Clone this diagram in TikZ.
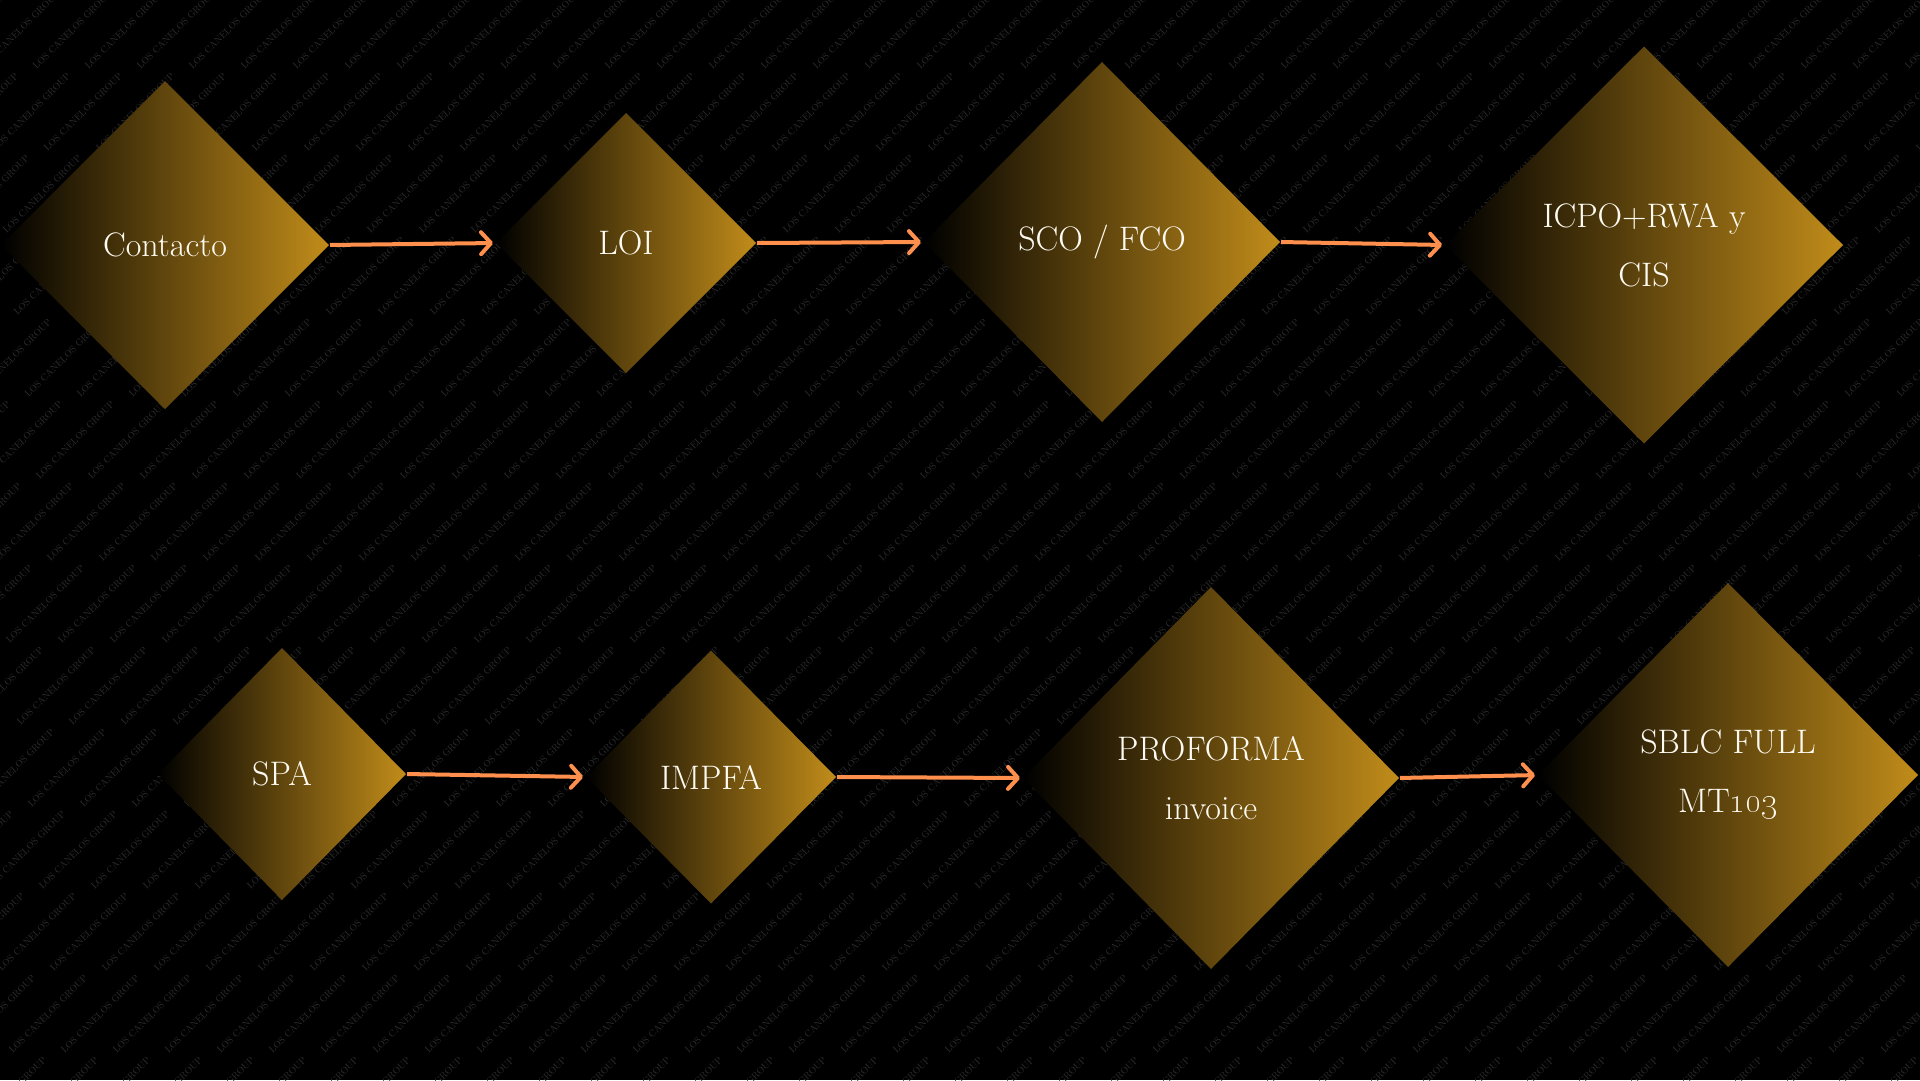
\documentclass[tikz,border=0pt]{standalone}
\usetikzlibrary{shapes.geometric,arrows.meta}
\definecolor{gold}{RGB}{193,140,26}
\definecolor{arrowor}{RGB}{255,143,76}
\definecolor{wmgray}{RGB}{46,46,46}
\definecolor{cream}{RGB}{255,251,242}
\begin{document}
\begin{tikzpicture}[x=1pt,y=-1pt,
  dia/.style={diamond, inner sep=0pt, outer sep=0pt, left color=black, right color=gold,
    text=cream, align=center, font=\fontsize{34}{59}\selectfont},
  flow/.style={draw=arrowor, line width=4pt,
    -{Straight Barb[length=10pt,width=22pt,round]}, shorten >=3pt, shorten <=1pt},
  wm/.style={rotate=45, text=wmgray, font=\fontsize{9.5}{10}\selectfont, inner sep=0pt}]
\fill[black] (0,0) rectangle (1920,1080);
\useasboundingbox (0,0) rectangle (1920,1080);
\begin{scope}
  \clip (0,0) rectangle (1920,1080);
  \foreach \j in {0,...,13}
    \foreach \i in {-5,...,38}
      \node[wm] (w\i-\j) at ({\i*52+\j*11+20},{\j*82+30}) {LOS CANELOS GROUP};
\end{scope}

\node[dia, minimum width=328pt, minimum height=328pt] (contacto) at (165,245) {Contacto};
\node[dia, minimum width=260pt, minimum height=260pt] (loi) at (626,243) {LOI};
\node[dia, minimum width=356pt, minimum height=360pt] (sco) at (1102,242) {SCO / FCO};
\node[dia, minimum width=398pt, minimum height=397pt] (icpo) at (1644,245) {ICPO+RWA y\\CIS};
\node[dia, minimum width=248pt, minimum height=252pt] (spa) at (282,774) {SPA};
\node[dia, minimum width=250pt, minimum height=253pt] (impfa) at (711,777) {IMPFA};
\node[dia, minimum width=376pt, minimum height=382pt] (proforma) at (1211,778) {PROFORMA\\invoice};
\node[dia, minimum width=380pt, minimum height=384pt] (sblc) at (1728,775) {SBLC FULL\\MT\oldstylenums{103}};

\draw[flow] (contacto.east) -- (loi.west);
\draw[flow] (loi.east) -- (sco.west);
\draw[flow] (sco.east) -- (icpo.west);
\draw[flow] (spa.east) -- (impfa.west);
\draw[flow] (impfa.east) -- (proforma.west);
\draw[flow] (proforma.east) -- (sblc.west);
\end{tikzpicture}
\end{document}
